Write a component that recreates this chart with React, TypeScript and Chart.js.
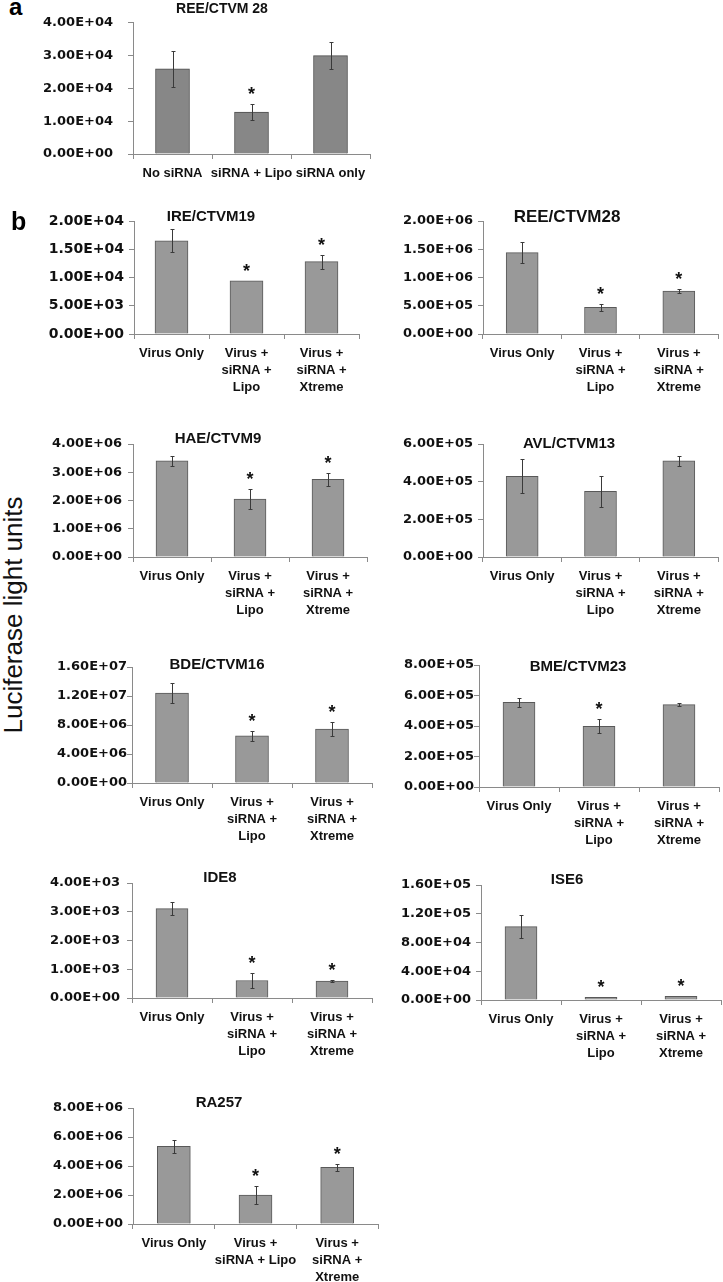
import React, { useEffect, useRef } from 'react';
import { Chart, registerables } from 'chart.js';

Chart.register(...registerables);

// ---------- category labels ----------
const catsA = ['No siRNA', 'siRNA + Lipo', 'siRNA only'];
const catsB = ['Virus Only', ['Virus +', 'siRNA +', 'Lipo'], ['Virus +', 'siRNA +', 'Xtreme']];
const catsRA = ['Virus Only', ['Virus +', 'siRNA + Lipo'], ['Virus +', 'siRNA +', 'Xtreme']];

// ---------- values (luciferase light units), errors, significance ----------
const reeA = [26000, 12800, 30000];
const reeAErr = [5500, 2300, 4000];
const reeASig = [false, true, false];

const ire19 = [16500, 9400, 12800];
const ire19Err = [2000, 0, 1250];
const ire19Sig = [false, true, true];

const ree28 = [1440000, 470000, 760000];
const ree28Err = [180000, 55000, 40000];
const ree28Sig = [false, true, true];

const hae9 = [3400000, 2050000, 2750000];
const hae9Err = [180000, 340000, 230000];
const hae9Sig = [false, true, true];

const avl13 = [428000, 349000, 510000];
const avl13Err = [90000, 83000, 26000];
const avl13Sig = [false, false, false];

const bde16 = [12400000, 6500000, 7450000];
const bde16Err = [1350000, 650000, 900000];
const bde16Sig = [false, true, true];

const bme23 = [555000, 398000, 540000];
const bme23Err = [30000, 45000, 8000];
const bme23Sig = [false, true, false];

const ide8 = [3110, 610, 585];
const ide8Err = [240, 270, 35];
const ide8Sig = [false, true, true];

const ise6 = [102000, 3700, 5000];
const ise6Err = [16000, 0, 0];
const ise6Sig = [false, true, true];

const ra257 = [5350000, 2000000, 3900000];
const ra257Err = [430000, 650000, 270000];
const ra257Sig = [false, true, true];

// ---------- y-axis ranges ----------
const yMax = { a: 40000, ire: 20000, ree: 2000000, hae: 4000000, avl: 600000, bde: 16000000, bme: 800000, ide: 4000, ise: 160000, ra: 8000000 };
const yStep = { a: 10000, ire: 5000, ree: 500000, hae: 1000000, avl: 200000, bde: 4000000, bme: 200000, ide: 1000, ise: 40000, ra: 2000000 };

const sci = (v: number) => {
  const [m, e] = v.toExponential(2).split('e');
  const n = parseInt(e, 10);
  return `${m}E${n < 0 ? '-' : '+'}${String(Math.abs(n)).padStart(2, '0')}`;
};

const DARK_FILL = '#878787';
const DARK_STROKE = '#4d4d4d';
const FILL = '#999999';
const STROKE = '#595959';
const AXIS = '#8a8a8a';

type Panel = {
  key: string; title: string; labels: any[]; values: number[]; errors: number[]; sig: boolean[];
  max: number; step: number;
  axisX: number; rightX: number; topY: number; zeroY: number;
  titleX: number; titleY: number; titleSize: number;
  tickSize: number; gap: number; barW: number; fill: string; stroke: string;
};

const panels: Panel[] = [
  { key: 'a', title: 'REE/CTVM 28', labels: catsA, values: reeA, errors: reeAErr, sig: reeASig, max: yMax.a, step: yStep.a,
    axisX: 133, rightX: 370, topY: 7, zeroY: 154, titleX: 222, titleY: 9, titleSize: 14, tickSize: 13, gap: 20, barW: 34, fill: DARK_FILL, stroke: DARK_STROKE },
  { key: 'ire', title: 'IRE/CTVM19', labels: catsB, values: ire19, errors: ire19Err, sig: ire19Sig, max: yMax.ire, step: yStep.ire,
    axisX: 134, rightX: 359, topY: 221, zeroY: 334, titleX: 211, titleY: 217, titleSize: 15, tickSize: 14, gap: 10, barW: 33, fill: FILL, stroke: STROKE },
  { key: 'ree', title: 'REE/CTVM28', labels: catsB, values: ree28, errors: ree28Err, sig: ree28Sig, max: yMax.ree, step: yStep.ree,
    axisX: 483, rightX: 718, topY: 221, zeroY: 334, titleX: 567, titleY: 217, titleSize: 17, tickSize: 13, gap: 10, barW: 32, fill: FILL, stroke: STROKE },
  { key: 'hae', title: 'HAE/CTVM9', labels: catsB, values: hae9, errors: hae9Err, sig: hae9Sig, max: yMax.hae, step: yStep.hae,
    axisX: 133, rightX: 367, topY: 444, zeroY: 557, titleX: 218, titleY: 439, titleSize: 15, tickSize: 13, gap: 11, barW: 32, fill: FILL, stroke: STROKE },
  { key: 'avl', title: 'AVL/CTVM13', labels: catsB, values: avl13, errors: avl13Err, sig: avl13Sig, max: yMax.avl, step: yStep.avl,
    axisX: 483, rightX: 718, topY: 444, zeroY: 557, titleX: 569, titleY: 444, titleSize: 15, tickSize: 13, gap: 10, barW: 32, fill: FILL, stroke: STROKE },
  { key: 'bde', title: 'BDE/CTVM16', labels: catsB, values: bde16, errors: bde16Err, sig: bde16Sig, max: yMax.bde, step: yStep.bde,
    axisX: 132, rightX: 372, topY: 667, zeroY: 783, titleX: 217, titleY: 665, titleSize: 15, tickSize: 13, gap: 5, barW: 33, fill: FILL, stroke: STROKE },
  { key: 'bme', title: 'BME/CTVM23', labels: catsB, values: bme23, errors: bme23Err, sig: bme23Sig, max: yMax.bme, step: yStep.bme,
    axisX: 479, rightX: 719, topY: 665, zeroY: 787, titleX: 578, titleY: 667, titleSize: 15, tickSize: 13, gap: 5, barW: 32, fill: FILL, stroke: STROKE },
  { key: 'ide', title: 'IDE8', labels: catsB, values: ide8, errors: ide8Err, sig: ide8Sig, max: yMax.ide, step: yStep.ide,
    axisX: 132, rightX: 372, topY: 883, zeroY: 998, titleX: 220, titleY: 878, titleSize: 15, tickSize: 13, gap: 12, barW: 32, fill: FILL, stroke: STROKE },
  { key: 'ise', title: 'ISE6', labels: catsB, values: ise6, errors: ise6Err, sig: ise6Sig, max: yMax.ise, step: yStep.ise,
    axisX: 481, rightX: 721, topY: 885, zeroY: 1000, titleX: 567, titleY: 880, titleSize: 15, tickSize: 13, gap: 10, barW: 32, fill: FILL, stroke: STROKE },
  { key: 'ra', title: 'RA257', labels: catsRA, values: ra257, errors: ra257Err, sig: ra257Sig, max: yMax.ra, step: yStep.ra,
    axisX: 133, rightX: 378, topY: 1108, zeroY: 1224, titleX: 219, titleY: 1103, titleSize: 15, tickSize: 13, gap: 10, barW: 33, fill: FILL, stroke: STROKE },
];

const SANS = '"Liberation Sans", Arial, Helvetica, sans-serif';
const YW = 100;
const XH = 72;
const PR = 6;

const decoPlugin = {
  id: 'panelDeco',
  afterDatasetsDraw(chart: any, _args: any, opts: any) {
    const ctx = chart.ctx;
    const y = chart.scales.y;
    const meta = chart.getDatasetMeta(0);
    const vals = chart.data.datasets[0].data as number[];
    ctx.save();
    meta.data.forEach((bar: any, i: number) => {
      const v = vals[i];
      const e = opts.errors[i] || 0;
      const x = Math.round(bar.x) + 0.5;
      if (e > 0) {
        const yt = Math.round(y.getPixelForValue(v + e)) + 0.5;
        const yb = Math.round(y.getPixelForValue(v - e)) + 0.5;
        ctx.strokeStyle = '#3a3a3a';
        ctx.lineWidth = 1;
        ctx.beginPath();
        ctx.moveTo(x, yt); ctx.lineTo(x, yb);
        ctx.moveTo(x - 2, yt); ctx.lineTo(x + 2, yt);
        ctx.moveTo(x - 2, yb); ctx.lineTo(x + 2, yb);
        ctx.stroke();
      }
      if (opts.sig[i]) {
        const top = y.getPixelForValue(v + e);
        ctx.fillStyle = '#111';
        ctx.font = `bold 18px ${SANS}`;
        ctx.textAlign = 'center';
        ctx.textBaseline = 'alphabetic';
        ctx.fillText('*', bar.x, top - 4);
      }
    });
    ctx.fillStyle = '#111';
    ctx.font = `bold ${opts.tsize}px ${SANS}`;
    ctx.textAlign = 'center';
    ctx.textBaseline = 'middle';
    ctx.fillText(opts.title, opts.tx, opts.ty);
    ctx.restore();
  },
};

function PanelChart({ p }: { p: Panel }) {
  const ref = useRef<HTMLCanvasElement | null>(null);
  const padTop = Math.min(25, p.topY);
  const left = p.axisX - YW;
  const top = p.topY - padTop;
  const w = YW + (p.rightX - p.axisX) + PR;
  const h = padTop + (p.zeroY - p.topY) + XH;

  useEffect(() => {
    if (!ref.current) return;
    const chart = new Chart(ref.current, {
      type: 'bar',
      data: {
        labels: p.labels,
        datasets: [{
          data: p.values,
          backgroundColor: p.fill,
          borderColor: p.stroke,
          borderWidth: 1,
          barThickness: p.barW,
        }],
      },
      options: {
        responsive: false,
        animation: false,
        devicePixelRatio: 1,
        layout: { padding: { top: padTop, right: PR, left: 0, bottom: 0 } },
        plugins: {
          legend: { display: false },
          tooltip: { enabled: false },
          title: { display: false },
          panelDeco: {
            title: p.title, tx: p.titleX - left, ty: p.titleY - top, tsize: p.titleSize,
            errors: p.errors, sig: p.sig,
          },
        } as any,
        scales: {
          x: {
            grid: { display: true, drawOnChartArea: false, drawTicks: true, tickLength: 5, color: AXIS, offset: true },
            border: { display: true, color: AXIS, width: 1 },
            ticks: {
              color: '#111', padding: 6, maxRotation: 0, minRotation: 0, autoSkip: false,
              font: { family: SANS, size: 13, weight: 'bold', lineHeight: 1.3 },
            },
            afterFit: (s: any) => { s.height = XH; },
          },
          y: {
            min: 0, max: p.max,
            grid: { display: true, drawOnChartArea: false, drawTicks: true, tickLength: 5, color: AXIS },
            border: { display: true, color: AXIS, width: 1 },
            ticks: {
              stepSize: p.step,
              callback: (v: any) => sci(Number(v)),
              color: '#111',
              padding: Math.max(0, p.gap - 5),
              font: { family: '"DejaVu Sans", sans-serif', size: p.tickSize, weight: 'bold' },
            },
            afterFit: (s: any) => { s.width = YW; },
          },
        } as any,
      },
      plugins: [decoPlugin],
    });
    return () => chart.destroy();
  }, []);

  return (
    <canvas
      ref={ref}
      width={w}
      height={h}
      style={{ position: 'absolute', left, top, width: w, height: h }}
    />
  );
}

export default function App() {
  useEffect(() => {
    document.body.style.margin = '0';
    document.body.style.background = '#fff';
  }, []);
  return (
    <div style={{ position: 'relative', width: 723, height: 1282, overflow: 'hidden', background: '#fff' }}>
      {panels.map((p) => <PanelChart key={p.key} p={p} />)}
      <span style={{ position: 'absolute', left: 9, top: -5, fontFamily: SANS, fontWeight: 'bold', fontSize: 24, lineHeight: 1 }}>a</span>
      <span style={{ position: 'absolute', left: 11, top: 209, fontFamily: SANS, fontWeight: 'bold', fontSize: 25, lineHeight: 1 }}>b</span>
      <div
        style={{
          position: 'absolute', left: 13, top: 615,
          transform: 'translate(-50%, -50%) rotate(-90deg)',
          fontFamily: SANS, fontSize: 26, lineHeight: 1, whiteSpace: 'nowrap', color: '#111',
        }}
      >
        Luciferase light units
      </div>
    </div>
  );
}
